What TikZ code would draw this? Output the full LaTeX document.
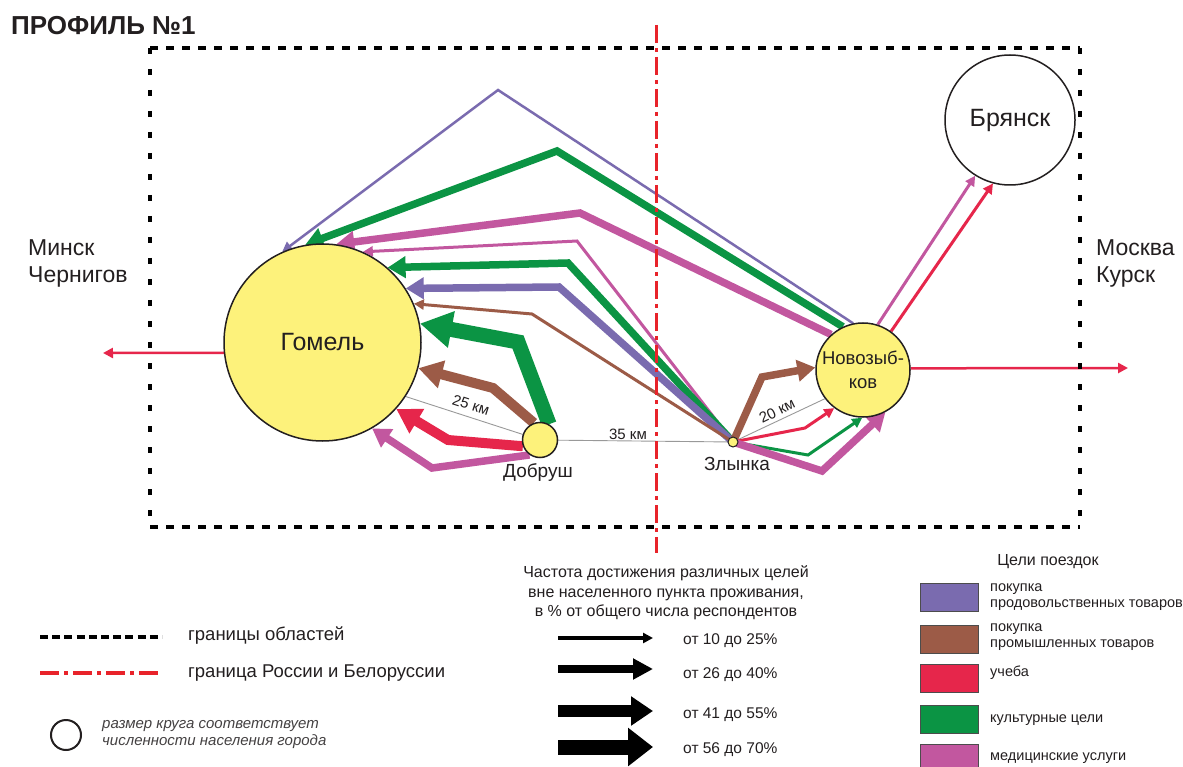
\documentclass[tikz,border=0pt]{standalone}
\usepackage{fontspec}
\setmainfont{Liberation Sans}
\usetikzlibrary{arrows.meta}
\pgfdeclarelayer{back}
\pgfdeclarelayer{bg}
\pgfsetlayers{back,bg,main}
\definecolor{cpur}{HTML}{7A6BAF}
\definecolor{cbrn}{HTML}{9C5B47}
\definecolor{cred}{HTML}{E6264B}
\definecolor{cgrn}{HTML}{0B9444}
\definecolor{cmag}{HTML}{C2579F}
\definecolor{cyel}{HTML}{FDF27B}
\definecolor{txt}{HTML}{231F20}
\definecolor{bred}{HTML}{E8232A}
\begin{document}
\begin{tikzpicture}[x=1pt,y=-1pt,
  every node/.style={text=txt},
  city/.style={circle, draw=txt, line width=1.5pt, fill=cyel, inner sep=0pt, align=center},
  ar1/.style={line width=3pt, line join=miter, -{Triangle[length=10pt,width=10pt]}},
  ar2/.style={line width=7.5pt, line join=miter, -{Triangle[length=18pt,width=21pt]}},
  ar3/.style={line width=10pt, line join=miter, -{Triangle[length=24pt,width=27pt]}},
  ar4/.style={line width=15pt, line join=miter, -{Triangle[length=32pt,width=35pt]}},
  km/.style={draw=gray!80, line width=0.9pt},
  kmlabel/.style={font=\fontsize{15}{18}\selectfont, inner sep=0pt},
  boxh/.style={draw=black, line width=3.5pt, dash pattern=on 8pt off 8pt},
  boxv/.style={draw=black, line width=4.5pt, dash pattern=on 6pt off 15pt},
  rborder/.style={draw=bred, line width=3pt, dash pattern=on 18pt off 5pt on 4pt off 5pt},
  swatch/.style={draw=gray!60!black, line width=0.5pt},
  itemtxt/.style={anchor=west, align=left, font=\fontsize{14.5}{16}\selectfont, inner sep=0pt},
  pct/.style={anchor=west, font=\fontsize{15.5}{18}\selectfont, inner sep=0pt}
]
\useasboundingbox (0,0) rectangle (1183,767);
\begin{pgfonlayer}{back}
\fill[white] (0,0) rectangle (1183,767);
\end{pgfonlayer}

% title
\node[anchor=west, font=\bfseries\fontsize{26}{30}\selectfont, inner sep=0pt] (title) at (11,26) {ПРОФИЛЬ №1};

% region borders
\coordinate (b1) at (150,48);
\coordinate (b2) at (1080,48);
\coordinate (b3) at (1080,527);
\coordinate (b4) at (150,527);
\draw[boxh] (b1) -- (b2);
\draw[boxh] (b4) -- (b3);
\draw[boxv] (b1) -- (b4);
\draw[boxv] (b2) -- (b3);

% cities
\node[city, minimum size=197pt, font=\fontsize{25}{30}\selectfont] (gomel) at (322.5,342.5) {Гомель};
\node[city, minimum size=35pt] (dob) at (540,440) {};
\node[city, minimum size=10pt, line width=1pt] (zl) at (733,442) {};
\node[city, minimum size=94pt, font=\fontsize{18.5}{24}\selectfont] (nov) at (863,370) {Новозыб-\\ков};
\node[city, fill=white, minimum size=130pt, font=\fontsize{25}{30}\selectfont] (bry) at (1010,120) {Брянск};

\node[font=\fontsize{19}{22}\selectfont] (dobl) at (538,473) {Добруш};
\node[font=\fontsize{19}{22}\selectfont] (zll) at (737,464) {Злынка};

\node[anchor=west, align=left, font=\fontsize{23}{27}\selectfont, inner sep=0pt] (west1) at (28,263) {Минск\\Чернигов};
\node[anchor=west, align=left, font=\fontsize{23}{27}\selectfont, inner sep=0pt] (east1) at (1096,263) {Москва\\Курск};

% bend points
\coordinate (pA) at (498,90);
\coordinate (gA) at (557,151);
\coordinate (mA) at (580,213);
\coordinate (mB) at (577,241);
\coordinate (gB) at (568,263);
\coordinate (pB) at (559,287);
\coordinate (bB) at (532,314);
\coordinate (gD) at (518,342);
\coordinate (bD) at (493,388);
\coordinate (rD) at (448,440);
\coordinate (mD) at (432,468);
\coordinate (bZ) at (762,377);
\coordinate (rZ) at (805,428);
\coordinate (gZ) at (808,455);
\coordinate (mZ) at (822,471);
\coordinate (westE) at (103,353);
\coordinate (eastE) at (1128,368);
\coordinate (r1) at (656,25);
\coordinate (r2) at (656,553);

\begin{pgfonlayer}{bg}
% distances
\draw[km] (gomel.-33) -- (dob.center);
\draw[km] (dob.center) -- (zl.center);
\draw[km] (zl.center) -- (nov.217);

% exits
\draw[ar1, draw=cred, line width=2.5pt] (gomel.186) -- (westE);
\draw[ar1, draw=cred, line width=2.5pt] (nov.2) -- (eastE);

% Novozybkov -> Gomel
\draw[ar1, draw=cpur, line width=2.5pt] (nov.102) -- (pA) -- (gomel.114);
\draw[ar2, draw=cgrn] (nov.115) -- (gA) -- (gomel.100);
\draw[ar2, draw=cmag] (nov.132) -- (mA) -- (gomel.82);

% Zlynka -> Gomel
\draw[ar1, draw=cmag] (zl.center) -- (mB) -- (gomel.66);
\draw[ar2, draw=cgrn] (zl.center) -- (gB) -- (gomel.49);
\draw[ar2, draw=cpur] (zl.center) -- (pB) -- (gomel.33.5);
\draw[ar1, draw=cbrn] (zl.center) -- (bB) -- (gomel.23);

% Dobrush -> Gomel
\draw[ar4, draw=cgrn] (dob.60) -- (gD) -- (gomel.11.6);
\draw[ar3, draw=cbrn] (dob.110) -- (bD) -- (gomel.-15.8);
\draw[ar3, draw=cred] (dob.200) -- (rD) -- (gomel.-42);
\draw[ar2, draw=cmag] (dob.235) -- (mD) -- (gomel.-60);

% Zlynka -> Novozybkov
\draw[ar2, draw=cbrn] (zl.center) -- (bZ) -- (nov.177.5);
\draw[ar1, draw=cred] (zl.center) -- (rZ) -- (nov.233);
\draw[ar1, draw=cgrn] (zl.center) -- (gZ) -- (nov.269);
\draw[ar2, draw=cmag] (zl.center) -- (mZ) -- (nov.298);

% Novozybkov -> Bryansk
\draw[ar1, draw=cmag] (nov.72) -- (bry.238.5);
\draw[ar1, draw=cred] (nov.54.5) -- (bry.255);
\end{pgfonlayer}

% state border
\draw[rborder] (r1) -- (r2);

% km labels
\node[kmlabel, rotate=-18] (k25) at (471,405) {25 км};
\node[kmlabel] (k35) at (628,434) {35 км};
\node[kmlabel, rotate=26] (k20) at (777,411) {20 км};

% ---------- legend left
\coordinate (l1a) at (40,637);
\coordinate (l1b) at (162,637);
\draw[draw=black, line width=4pt, dash pattern=on 8pt off 4.2pt] (l1a) -- (l1b);
\node[anchor=west, font=\fontsize{18.5}{22}\selectfont, inner sep=0pt] (lt1) at (188,636) {границы областей};
\coordinate (l2a) at (40,673);
\coordinate (l2b) at (162,673);
\draw[draw=bred, line width=4pt, dash pattern=on 19pt off 5pt on 4pt off 5pt] (l2a) -- (l2b);
\node[anchor=west, font=\fontsize{18.5}{22}\selectfont, inner sep=0pt] (lt2) at (188,673) {граница России и Белоруссии};
\node[circle, draw=txt, line width=2pt, minimum size=30pt, inner sep=0pt] (lc) at (66,735) {};
\node[anchor=west, align=left, font=\itshape\fontsize{15}{17}\selectfont, inner sep=0pt, text=txt!85] (lct) at (102,735) {размер круга соответствует\\численности населения города};

% ---------- legend middle
\node[align=center, font=\fontsize{16}{19.5}\selectfont] (mt) at (666,593) {Частота достижения различных целей\\вне населенного пункта проживания,\\в \% от общего числа респондентов};
\coordinate (a1a) at (558,638); \coordinate (a1b) at (653,638);
\coordinate (a2a) at (558,669); \coordinate (a2b) at (653,669);
\coordinate (a3a) at (558,711); \coordinate (a3b) at (653,711);
\coordinate (a4a) at (558,747); \coordinate (a4b) at (653,747);
\draw[line width=4pt, -{Triangle[length=10pt,width=10pt]}] (a1a) -- (a1b);
\draw[line width=8pt, -{Triangle[length=20pt,width=20pt]}] (a2a) -- (a2b);
\draw[line width=12pt, -{Triangle[length=22pt,width=28pt]}] (a3a) -- (a3b);
\draw[line width=15pt, -{Triangle[length=25pt,width=37pt]}] (a4a) -- (a4b);
\node[pct] (p1) at (683,641) {от 10 до 25\%};
\node[pct] (p2) at (683,675) {от 26 до 40\%};
\node[pct] (p3) at (683,715) {от 41 до 55\%};
\node[pct] (p4) at (683,750) {от 56 до 70\%};

% ---------- legend right
\node[font=\fontsize{16}{19}\selectfont] (rt) at (1048,562) {Цели поездок};
\filldraw[swatch, fill=cpur] (920,583) rectangle (978,611);
\filldraw[swatch, fill=cbrn] (920,625) rectangle (978,653);
\filldraw[swatch, fill=cred] (920,664) rectangle (978,692);
\filldraw[swatch, fill=cgrn] (920,705) rectangle (978,733);
\filldraw[swatch, fill=cmag] (920,744) rectangle (978,772);
\node[itemtxt] (i1) at (990,597) {покупка\\продовольственных товаров};
\node[itemtxt] (i2) at (990,637) {покупка\\промышленных товаров};
\node[itemtxt] (i3) at (990,673) {учеба};
\node[itemtxt] (i4) at (990,720) {культурные цели};
\node[itemtxt] (i5) at (990,758) {медицинские услуги};
\end{tikzpicture}
\end{document}
